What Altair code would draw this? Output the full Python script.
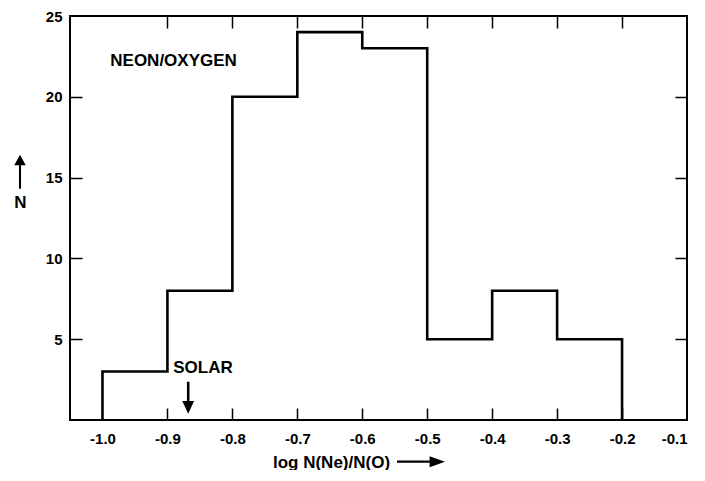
import altair as alt
import pandas as pd

# ---- data ----
bin_edges = [-1.0, -0.9, -0.8, -0.7, -0.6, -0.5, -0.4, -0.3, -0.2]
counts = [3, 8, 20, 24, 23, 5, 8, 5]

x_tick_values = [-1.0, -0.9, -0.8, -0.7, -0.6, -0.5, -0.4, -0.3, -0.2, -0.1]
x_inner_ticks = [-0.9, -0.8, -0.7, -0.6, -0.5, -0.4, -0.3, -0.2]
y_tick_values = [5, 10, 15, 20, 25]
y_inner_ticks = [5, 10, 15, 20]

label_text = ["NEON/OXYGEN", "SOLAR"]
label_x = [-0.988, -0.891]
label_y = [22.24, 3.19]

solar_value = -0.868
solar_arrow_y = 1.38
yarrow_x, yarrow_y = -1.127, 15.36
xarrow_x, xarrow_y = -0.5096, -2.58

# ---- step outline of the histogram ----
xs, ys = [bin_edges[0]], [0]
for i, c in enumerate(counts):
    xs += [bin_edges[i], bin_edges[i + 1]]
    ys += [c, c]
xs.append(bin_edges[-1])
ys.append(0)
step_df = pd.DataFrame({"x": xs, "y": ys, "o": list(range(len(xs)))})

FONT = "Liberation Sans"
W, H = 617, 404
xscale = alt.Scale(domain=[-1.05, -0.1], nice=False, zero=False)
yscale = alt.Scale(domain=[0, 25], nice=False, zero=True)
label_expr = "replace(format(datum.value, '.1f'), '\u2212', '-')"

main = alt.Chart(step_df).mark_line(color="black", strokeWidth=2.6, strokeJoin="miter", clip=False).encode(
    x=alt.X("x:Q", scale=xscale, axis=alt.Axis(
        orient="bottom", values=x_tick_values, labelExpr=label_expr, ticks=False, tickSize=0,
        domain=False, grid=False, labelPadding=11, labelFont=FONT, labelFontSize=15,
        labelFontWeight="bold", labelColor="black", labelBaseline="top",
        title="log N(Ne)/N(O)", titleFont=FONT, titleFontSize=17, titleFontWeight="bold",
        titleColor="black", titleX=261, titleY=42, titleAlign="center", titleBaseline="middle")),
    y=alt.Y("y:Q", scale=yscale, axis=alt.Axis(
        orient="left", values=y_tick_values, ticks=False, tickSize=0, domain=False, grid=False,
        labelPadding=8, labelFont=FONT, labelFontSize=15, labelFontWeight="bold", labelColor="black",
        title="N", titleFont=FONT, titleFontSize=17, titleFontWeight="bold", titleColor="black",
        titleAngle=0, titleX=-50, titleY=186, titleAlign="center", titleBaseline="middle")),
    order="o:Q",
)

tick_axis_kw = dict(labels=False, domain=False, grid=False, ticks=True, tickSize=12,
                    tickColor="black", tickWidth=1.5, title=None)

# inward ticks on bottom edge and left edge
ticks_a = alt.Chart(step_df).mark_line(opacity=0).encode(
    x=alt.X("x:Q", scale=xscale, axis=alt.Axis(orient="top", offset=-H, values=x_inner_ticks, **tick_axis_kw)),
    y=alt.Y("y:Q", scale=yscale, axis=alt.Axis(orient="right", offset=-W, values=y_inner_ticks, **tick_axis_kw)),
)
# inward ticks on top edge and right edge
ticks_b = alt.Chart(step_df).mark_line(opacity=0).encode(
    x=alt.X("x:Q", scale=xscale, axis=alt.Axis(orient="bottom", offset=-H, values=x_inner_ticks, **tick_axis_kw)),
    y=alt.Y("y:Q", scale=yscale, axis=alt.Axis(orient="left", offset=-W, values=y_inner_ticks, **tick_axis_kw)),
)

lab_df = pd.DataFrame({"t": label_text, "x": label_x, "y": label_y})
labels = alt.Chart(lab_df).mark_text(
    align="left", baseline="middle", font=FONT, fontSize=17, fontWeight="bold", color="black"
).encode(
    x=alt.X("x:Q", scale=xscale, axis=None),
    y=alt.Y("y:Q", scale=yscale, axis=None),
    text="t:N",
)

UP = "M0,-1 L0.34,-0.38 L0.06,-0.38 L0.06,1 L-0.06,1 L-0.06,-0.38 L-0.34,-0.38 Z"
RIGHT = "M1,0 L0.36,0.23 L0.36,0.045 L-1,0.045 L-1,-0.045 L0.36,-0.045 L0.36,-0.23 Z"
DOWN = "M0,1 L0.37,0.2 L0.08,0.2 L0.08,-1 L-0.08,-1 L-0.08,0.2 L-0.37,0.2 Z"


def arrow(xv, yv, shape, size):
    d = pd.DataFrame({"x": [xv], "y": [yv]})
    return alt.Chart(d).mark_point(shape=shape, size=size, filled=True, color="black",
                                   opacity=1, strokeWidth=0, clip=False).encode(
        x=alt.X("x:Q", scale=xscale, axis=None),
        y=alt.Y("y:Q", scale=yscale, axis=None),
    )


solar_arrow = arrow(solar_value, solar_arrow_y, DOWN, 1024)
y_arrow = arrow(yarrow_x, yarrow_y, UP, 1156)
x_arrow = arrow(xarrow_x, xarrow_y, RIGHT, 2304)

chart = alt.layer(main, ticks_a, ticks_b, labels, solar_arrow, y_arrow, x_arrow).resolve_axis(
    x="independent", y="independent"
).properties(
    width=W, height=H,
    autosize=alt.AutoSizeParams(type="none"),
    padding={"left": 62, "top": 8, "right": 10, "bottom": 50},
    background="white",
).configure_view(stroke="black", strokeWidth=2)

chart.save("out.html", embed_options={"renderer": "svg", "actions": False})
